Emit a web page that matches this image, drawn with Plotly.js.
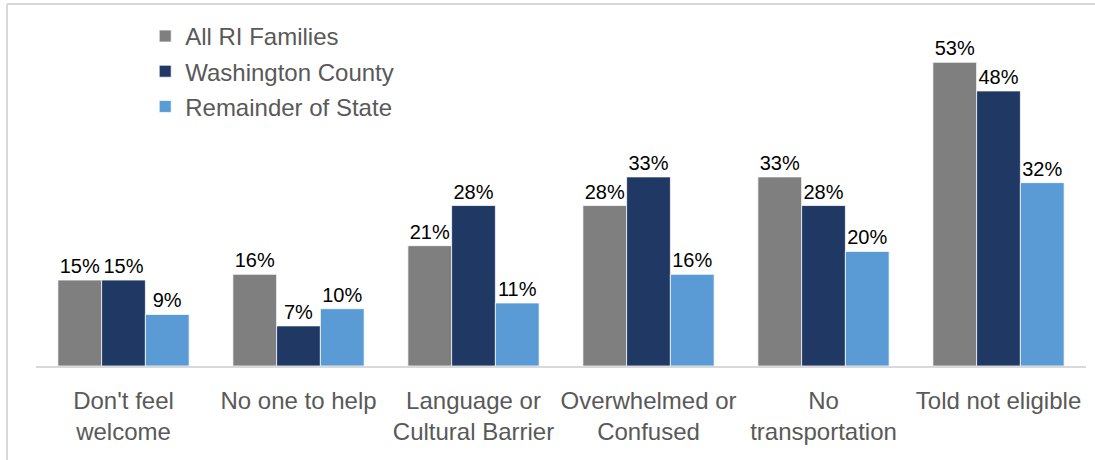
<!DOCTYPE html>
<html>
<head>
<meta charset="utf-8">
<script src="https://cdn.plot.ly/plotly-3.0.1.min.js"></script>
<style>html,body{margin:0;padding:0;background:#fff;}#chart{width:1095px;height:460px;}</style>
</head>
<body>
<div id="chart"></div>
<script>
const categories = ["Don't feel<br>welcome", "No one to help", "Language or<br>Cultural Barrier", "Overwhelmed or<br>Confused", "No<br>transportation", "Told not eligible"];
const seriesNames = ["All RI Families", "Washington County", "Remainder of State"];
const allRI = [0.15, 0.16, 0.21, 0.28, 0.33, 0.53];
const washington = [0.15, 0.07, 0.28, 0.33, 0.28, 0.48];
const remainder = [0.09, 0.10, 0.11, 0.16, 0.20, 0.32];
const colors = ["#7f7f7f", "#1f3864", "#5b9bd5"];

const FONT = "Liberation Sans, Arial, sans-serif";
const values = [allRI, washington, remainder];
const traces = values.map((v, i) => ({
  type: 'bar',
  name: seriesNames[i],
  legendgroup: 'g' + i,
  x: categories,
  y: v,
  marker: {color: colors[i], line: {color: '#ffffff', width: 0.75}},
  texttemplate: '%{y:.0%}',
  textposition: 'outside',
  cliponaxis: false,
  textfont: {family: FONT, size: 20, color: '#000000'},
  hoverinfo: 'none'
}));

const layout = {
  width: 1095, height: 460,
  margin: {l: 36, r: 9, t: 10, b: 94},
  paper_bgcolor: '#ffffff', plot_bgcolor: '#ffffff',
  barmode: 'group', bargap: 0.25, bargroupgap: 0,
  font: {family: FONT, color: '#595959'},
  xaxis: {
    type: 'category',
    showline: true, linecolor: '#d9d9d9', linewidth: 2,
    showgrid: false, zeroline: false, ticks: '',
    tickangle: 0,
    tickfont: {family: FONT, size: 24, color: '#595959'},
    ticklabelstandoff: 12
  },
  yaxis: {visible: false, range: [0, 0.6213], showgrid: false, zeroline: false},
  showlegend: true,
  legend: {
    x: 0.104, xanchor: 'left', y: 0.989, yanchor: 'top',
    font: {family: FONT, size: 24, color: '#595959'},
    bgcolor: 'rgba(0,0,0,0)', traceorder: 'grouped', tracegroupgap: 1,
    itemwidth: 30
  },
  shapes: [
    {type: 'line', xref: 'paper', yref: 'paper', x0: -0.0276, x1: 1.02, y0: 1.017, y1: 1.017, line: {color: '#d9d9d9', width: 2}},
    {type: 'line', xref: 'paper', yref: 'paper', x0: -0.0276, x1: -0.0276, y0: 1.017, y1: -0.3, line: {color: '#d9d9d9', width: 2}}
  ]
};

Plotly.newPlot('chart', traces, layout, {displayModeBar: false, staticPlot: true});
</script>
</body>
</html>
